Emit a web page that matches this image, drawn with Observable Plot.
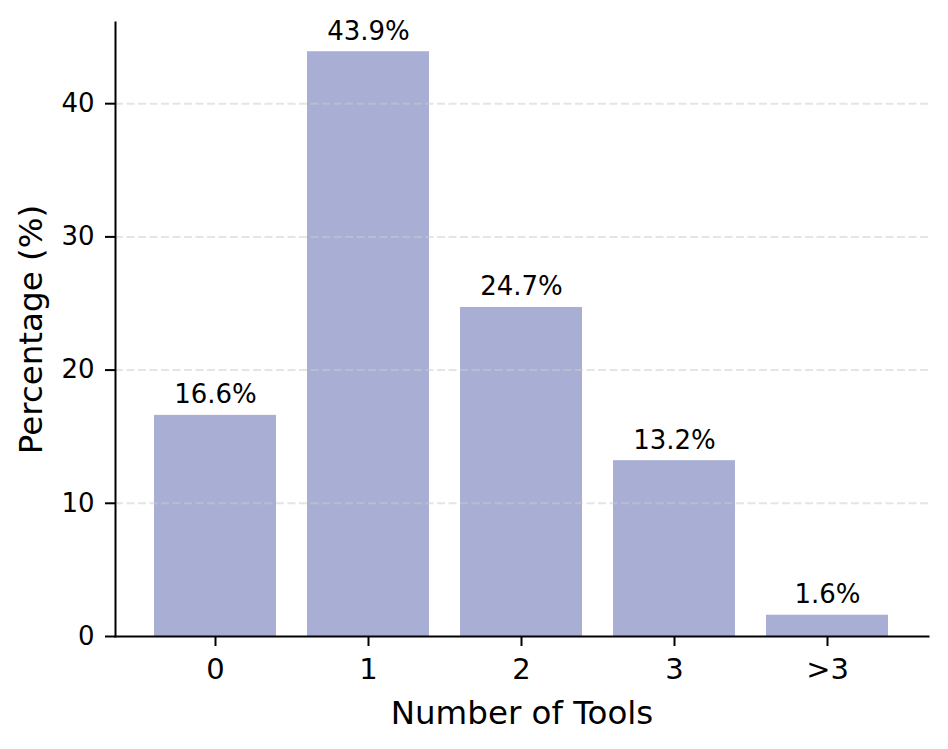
<!DOCTYPE html>
<html>
<head>
<meta charset="utf-8">
<script src="https://cdn.jsdelivr.net/npm/d3@7"></script>
<script src="https://cdn.jsdelivr.net/npm/@observablehq/plot@0.6"></script>
<style>
  html, body { margin: 0; padding: 0; background: #fff; }
  #chart { width: 948px; height: 749px; }
  svg { font-family: "DejaVu Sans", sans-serif; }
  svg g[aria-label="y-axis tick"], svg g[aria-label="x-axis tick"] { stroke-width: 2px; }
</style>
</head>
<body>
<div id="chart"></div>
<script>
const categories = ["0", "1", "2", "3", ">3"];
const percentages = [16.6, 43.9, 24.7, 13.2, 1.6];
const yTicks = [0, 10, 20, 30, 40];
const gridTicks = [10, 20, 30, 40];
const xLabel = "Number of Tools";
const yLabel = "Percentage (%)";

const data = categories.map((c, i) => ({ cat: c, value: percentages[i] }));

const W = 948, H = 749;
const mL = 115, mR = 20, mT = 22, mB = 113;

const chart = Plot.plot({
  width: W,
  height: H,
  marginLeft: mL,
  marginRight: mR,
  marginTop: mT,
  marginBottom: mB,
  style: { fontFamily: "DejaVu Sans, sans-serif", background: "#fff", overflow: "visible" },
  x: { domain: categories, paddingInner: 0.2, paddingOuter: 0.24, align: 0.5, label: null },
  y: { domain: [0, 46.095], label: null },
  marks: [
    Plot.barY(data, { x: "cat", y: "value", fill: "#a9afd4" }),
    Plot.ruleY(gridTicks, { stroke: "#cccccc", strokeOpacity: 0.5, strokeWidth: 2, strokeDasharray: "8,3.5" }),
    Plot.text(data, {
      x: "cat", y: "value",
      text: d => d.value.toFixed(1) + "%",
      dy: -12, lineAnchor: "bottom", fontSize: 26, fill: "#000"
    }),
    Plot.axisY(yTicks, {
      tickSize: 10, tickPadding: 11, fontSize: 26, stroke: "#000", fill: "#000", label: null
    }),
    Plot.axisX(categories, {
      tickSize: 10, tickPadding: 12, fontSize: 29, stroke: "#000", fill: "#000", label: null
    }),
    Plot.frame({ anchor: "left", stroke: "#000", strokeWidth: 2 }),
    Plot.frame({ anchor: "bottom", stroke: "#000", strokeWidth: 2 }),
    Plot.text([xLabel], {
      frameAnchor: "bottom", dy: 87, lineAnchor: "bottom", fontSize: 32.5, fill: "#000", text: d => d
    }),
    Plot.text([yLabel], {
      frameAnchor: "left", textAnchor: "middle", dx: -84, rotate: -90, fontSize: 32.5, fill: "#000", text: d => d
    })
  ]
});

document.getElementById("chart").appendChild(chart);
</script>
</body>
</html>
